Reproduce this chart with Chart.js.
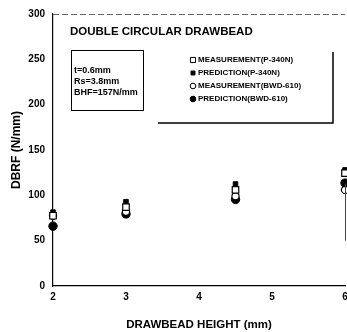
<!DOCTYPE html>
<html lang="en">
<head>
  <meta charset="UTF-8">
  <title>Double circular drawbead</title>
  <script src="https://cdn.jsdelivr.net/npm/chart.js@4.4.0/dist/chart.umd.min.js"></script>
  <style>
    body { margin: 0; overflow: hidden; background: #fff; }
  </style>
</head>
<body>
  <canvas id="chart" width="372" height="332"></canvas>

  <script>
    // drawbead height (mm) and DBRF values (N/mm)
    const heights = [2, 3, 4.5, 6];
    const measP340 = [77.5, 87, 106, 124.5];
    const predP340 = [81.5, 93, 112.5, 128];
    const measBWD = [77.5, 82, 99, 106];
    const predBWD = [66, 79.5, 95.5, 113.5];
    const seriesNames = ['MEASUREMENT(P-340N)', 'PREDICTION(P-340N)', 'MEASUREMENT(BWD-610)', 'PREDICTION(BWD-610)'];
    const infoLines = ['t=0.6mm', 'Rs=3.8mm', 'BHF=157N/mm'];
    const chartTitle = 'DOUBLE CIRCULAR DRAWBEAD';

    const pts = vals => heights.map((h, i) => ({ x: h, y: vals[i] }));
    const FONT = '"Liberation Sans", Arial, sans-serif';

    // lower order = drawn on top
    const styles = [
      { pointStyle: 'rect', pointRadius: 4.6, backgroundColor: '#fff', borderColor: '#000', borderWidth: 1.2, order: 0 },
      { pointStyle: 'rect', pointRadius: 3.2, backgroundColor: '#000', borderColor: '#000', borderWidth: 1, order: 1 },
      { pointStyle: 'circle', pointRadius: 3.6, backgroundColor: '#fff', borderColor: '#000', borderWidth: 1.2, order: 2 },
      { pointStyle: 'circle', pointRadius: 4.2, backgroundColor: '#000', borderColor: '#000', borderWidth: 1, order: 3 }
    ];
    const allVals = [measP340, predP340, measBWD, predBWD];

    // text boxes, legend and frame pieces drawn over the plot
    const annotations = {
      id: 'annotations',
      afterDatasetsDraw(chart) {
        const { ctx, chartArea: a, scales: { y } } = chart;
        ctx.save();
        // dashed top frame
        ctx.strokeStyle = '#666';
        ctx.lineWidth = 1;
        ctx.setLineDash([6, 3]);
        ctx.beginPath();
        ctx.moveTo(a.left, a.top + 0.5);
        ctx.lineTo(a.right, a.top + 0.5);
        ctx.stroke();
        ctx.setLineDash([]);
        // partial right frame
        ctx.strokeStyle = '#444';
        ctx.beginPath();
        ctx.moveTo(a.right + 0.5, y.getPixelForValue(113));
        ctx.lineTo(a.right + 0.5, y.getPixelForValue(50));
        ctx.stroke();

        ctx.fillStyle = '#000';
        ctx.textBaseline = 'middle';
        ctx.font = 'bold 11.5px ' + FONT;
        ctx.fillText(chartTitle, 70, 32);

        // info box
        ctx.strokeStyle = '#000';
        ctx.strokeRect(71.5, 50.5, 72, 60);
        ctx.font = 'bold 9px ' + FONT;
        infoLines.forEach((t, i) => ctx.fillText(t, 74, 71 + i * 11));

        // legend box (only right and bottom edges show)
        ctx.lineWidth = 1.5;
        ctx.beginPath();
        ctx.moveTo(333, 52);
        ctx.lineTo(333, 123);
        ctx.lineTo(158, 123);
        ctx.stroke();
        ctx.lineWidth = 1;
        ctx.font = 'bold 8px ' + FONT;
        seriesNames.forEach((name, i) => {
          const ly = 60 + i * 13;
          const s = styles[i];
          const r = i === 0 ? 3.6 : 2.8;
          ctx.fillStyle = s.backgroundColor;
          ctx.strokeStyle = '#000';
          ctx.beginPath();
          if (s.pointStyle === 'rect') {
            const h = r * Math.SQRT1_2;
            ctx.rect(193 - h, ly - h, 2 * h, 2 * h);
          } else {
            ctx.arc(193, ly, r, 0, Math.PI * 2);
          }
          ctx.fill();
          ctx.stroke();
          ctx.fillStyle = '#000';
          ctx.fillText(name, 198, ly);
        });
        ctx.restore();
      }
    };

    new Chart(document.getElementById('chart'), {
      type: 'scatter',
      data: {
        datasets: seriesNames.map((name, i) => Object.assign({
          label: name,
          data: pts(allVals[i]),
          clip: false
        }, styles[i]))
      },
      options: {
        responsive: false,
        animation: false,
        layout: { padding: { top: 14, right: 27, left: 0, bottom: 0 } },
        plugins: { legend: { display: false }, tooltip: { enabled: false } },
        scales: {
          x: {
            type: 'linear',
            min: 2,
            max: 6,
            afterFit: s => { s.height = 46; },
            grid: { display: false, drawTicks: false },
            border: { display: true, color: '#000', width: 1.2 },
            ticks: { stepSize: 1, padding: 5, color: '#000', font: { family: FONT, size: 10, weight: 'bold' } },
            title: { display: true, text: 'DRAWBEAD HEIGHT (mm)', color: '#000', padding: { top: 3, bottom: 0 },
                     font: { family: FONT, size: 11.5, weight: 'bold' } }
          },
          y: {
            min: 0,
            max: 300,
            afterFit: s => { s.width = 53; },
            grid: { display: false, drawTicks: false },
            border: { display: true, color: '#000', width: 1.2 },
            ticks: { stepSize: 50, padding: 8, color: '#000', font: { family: FONT, size: 10, weight: 'bold' } },
            title: { display: true, text: 'DBRF (N/mm)', color: '#000', padding: { top: 9, bottom: 0 },
                     font: { family: FONT, size: 12, weight: 'bold' } }
          }
        }
      },
      plugins: [annotations]
    });
  </script>
</body>
</html>
